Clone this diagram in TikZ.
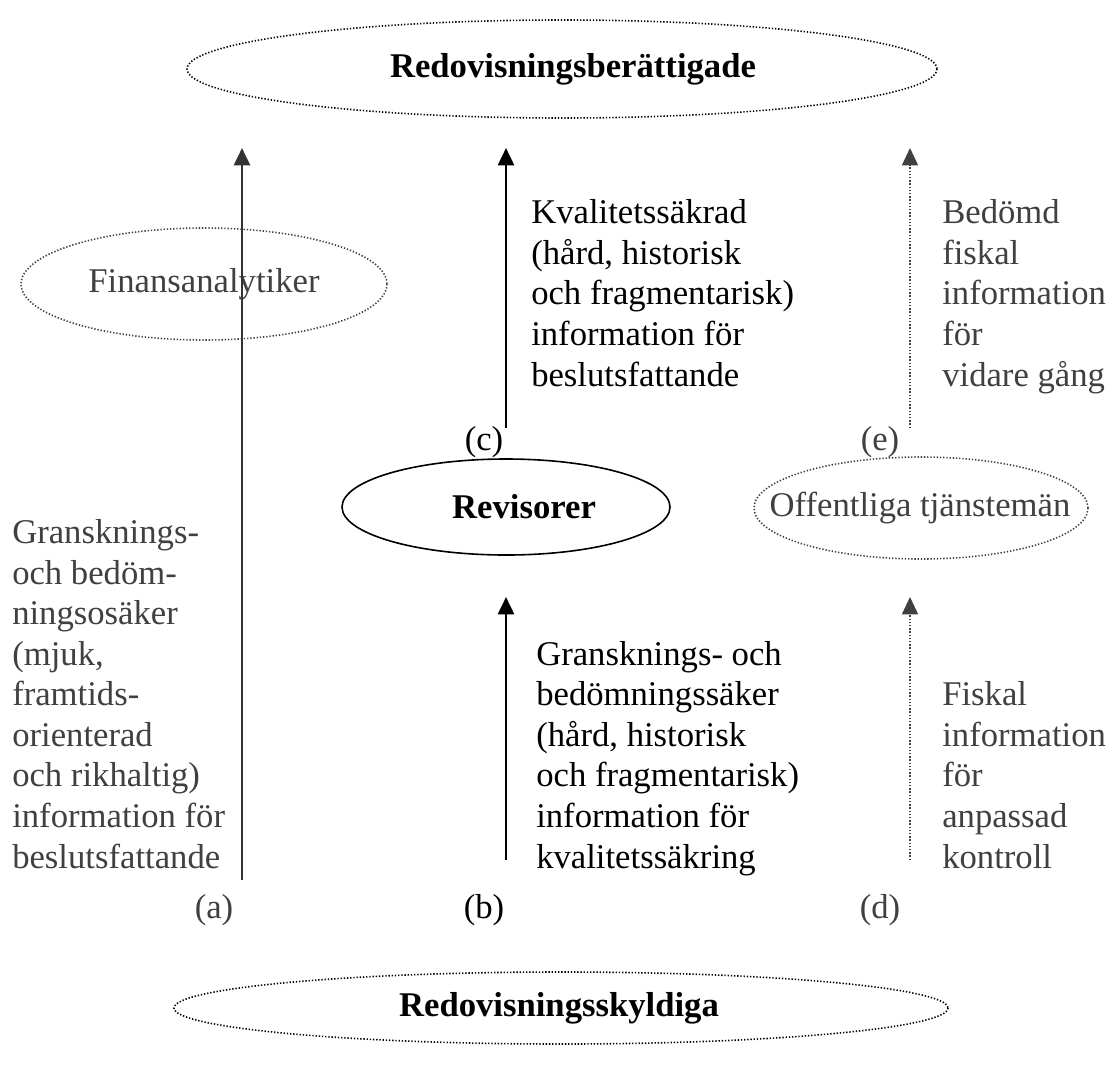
\documentclass[tikz,border=0pt]{standalone}
\usepackage{fontspec}
\setmainfont{Liberation Serif}
\usetikzlibrary{arrows.meta}
\definecolor{txtgray}{RGB}{64,64,64}
\tikzset{
  dotline/.style={line width=1.2pt,dash pattern=on 1pt off 1.4pt},
  actor/.style={inner sep=0pt,font=\fontsize{26}{30.4}\selectfont},
  flowtext/.style={anchor=base west,align=left,inner sep=0pt,font=\fontsize{26}{30.4}\selectfont},
  tag/.style={anchor=base,inner sep=0pt,font=\fontsize{26}{30.4}\selectfont},
  flow/.style={line width=2pt,-{Triangle[length=13pt,width=12pt]}}
}

\begin{document}
\begin{tikzpicture}[x=0.75pt,y=0.75pt,yscale=-1,xscale=1]
\useasboundingbox (0,0) rectangle (1109,1064);

%Shape: Ellipse
\draw [dotline] (562,69) ellipse [x radius=375,y radius=49];
%Shape: Ellipse
\draw [dotline,txtgray] (204,284) ellipse [x radius=183,y radius=56];
%Shape: Ellipse
\draw [line width=1.2pt] (506,507) ellipse [x radius=164,y radius=48];
%Shape: Ellipse
\draw [dotline,txtgray] (921,508) ellipse [x radius=167,y radius=51];
%Shape: Ellipse
\draw [dotline] (561,1008) ellipse [x radius=387,y radius=36];

% Text Node
\node (top) [actor] at (573,69) {\bfseries Redovisningsberättigade};
% Text Node
\node (finans) [actor,text=txtgray] at (204,284) {Finansanalytiker};
% Text Node
\node (revisor) [actor] at (524,507) {\bfseries Revisorer};
% Text Node
\node (offentlig) [actor,text=txtgray] at (920,508) {Offentliga tjänstemän};
% Text Node
\node (bottom) [actor] at (559,1008) {\bfseries Redovisningsskyldiga};

%Straight Lines [arrow ends]
\coordinate (a0) at (242,880); \coordinate (a1) at (242,148);
\coordinate (c0) at (506,428); \coordinate (c1) at (506,148);
\coordinate (e0) at (910,428); \coordinate (e1) at (910,148);
\coordinate (b0) at (506,860); \coordinate (b1) at (506,597);
\coordinate (d0) at (910,860); \coordinate (d1) at (910,597);

\draw [flow,txtgray!80!black] (a0) -- (a1);
\draw [flow] (c0) -- (c1);
\draw [flow] (b0) -- (b1);
\draw [flow,txtgray,line width=1.2pt,dash pattern=on 1pt off 1.4pt] (e0) -- (e1);
\draw [flow,txtgray,line width=1.2pt,dash pattern=on 1pt off 1.4pt] (d0) -- (d1);

% Text Node
\node (texta) [flowtext,text=txtgray] at (12,868) {Gransknings-\\och bedöm-\\ningsosäker\\(mjuk,\\framtids-\\orienterad\\och rikhaltig)\\information för\\beslutsfattande};
% Text Node
\node (textc) [flowtext] at (531,386) {Kvalitetssäkrad\\(hård, historisk\\och fragmentarisk)\\information för\\beslutsfattande};
% Text Node
\node (texte) [flowtext,text=txtgray] at (942,386) {Bedömd\\fiskal\\information\\för\\vidare gång};
% Text Node
\node (textb) [flowtext] at (536,868) {Gransknings- och\\bedömningssäker\\(hård, historisk\\och fragmentarisk)\\information för\\kvalitetssäkring};
% Text Node
\node (textd) [flowtext,text=txtgray] at (942,868) {Fiskal\\information\\för\\anpassad\\kontroll};

% Text Node
\node (taga) [tag,text=txtgray] at (214,918) {(a)};
% Text Node
\node (tagb) [tag] at (484,918) {(b)};
% Text Node
\node (tagd) [tag,text=txtgray] at (880,918) {(d)};
% Text Node
\node (tagc) [tag] at (484,450) {(c)};
% Text Node
\node (tage) [tag,text=txtgray] at (880,450) {(e)};

\end{tikzpicture}
\end{document}
